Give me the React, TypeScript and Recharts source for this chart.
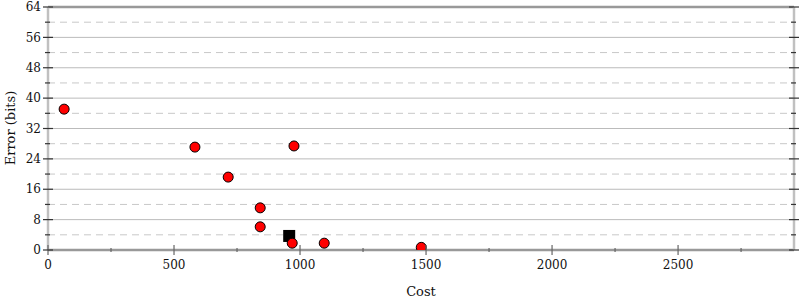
import React from "react";
import {
  ScatterChart,
  Scatter,
  XAxis,
  YAxis,
  ReferenceLine,
  Label,
} from "recharts";

// candidate points: cost vs error (bits)
const costs = [64, 583, 715, 976, 842, 842, 969, 1096, 1481];
const errors = [37.1, 27.1, 19.2, 27.4, 11.1, 6.1, 1.8, 1.8, 0.7];
// chosen point (black square)
const bestCost = [957];
const bestError = [3.7];

const xMajorTicks = [0, 500, 1000, 1500, 2000, 2500];
const xMinorTicks = [250, 750, 1250, 1750, 2250, 2750];
const yMajorTicks = [0, 8, 16, 24, 32, 40, 48, 56, 64];
const yMinorTicks = [4, 12, 20, 28, 36, 44, 52, 60];

const points = costs.map((c, i) => ({ cost: c, error: errors[i] }));
const best = bestCost.map((c, i) => ({ cost: c, error: bestError[i] }));

const FONT = "'DejaVu Serif', serif";

// eslint-disable-next-line @typescript-eslint/no-explicit-any
function LeftTick({ x, y, payload }: any) {
  const major = yMajorTicks.includes(payload.value);
  return (
    <g>
      <line x1={major ? x - 5 : x - 3} x2={major ? x + 5 : x + 2} y1={y} y2={y} stroke="#333" strokeWidth={1.2} />
      {major && (
        <text x={x - 7} y={y} dy="0.35em" textAnchor="end" fontSize={12} fontFamily={FONT} fill="#111">
          {payload.value}
        </text>
      )}
    </g>
  );
}

// eslint-disable-next-line @typescript-eslint/no-explicit-any
function RightTick({ x, y, payload }: any) {
  const major = yMajorTicks.includes(payload.value);
  return (
    <line x1={major ? x - 5 : x - 3} x2={major ? x + 5 : x + 2} y1={y} y2={y} stroke="#333" strokeWidth={1.2} />
  );
}

// eslint-disable-next-line @typescript-eslint/no-explicit-any
function BottomTick({ x, y, payload }: any) {
  const major = xMajorTicks.includes(payload.value);
  return (
    <g>
      <line x1={x} x2={x} y1={major ? y - 5 : y - 2} y2={major ? y + 5 : y + 2} stroke="#666" strokeWidth={1.2} />
      {major && (
        <text x={x} y={y + 15} dy="0.35em" textAnchor="middle" fontSize={12} fontFamily={FONT} fill="#111">
          {payload.value}
        </text>
      )}
    </g>
  );
}

// eslint-disable-next-line @typescript-eslint/no-explicit-any
const RedDot = (p: any) => (
  <circle cx={p.cx} cy={p.cy} r={5} fill="#ff0000" stroke="#000" strokeWidth={1} />
);

// eslint-disable-next-line @typescript-eslint/no-explicit-any
const BlackSquare = (p: any) => (
  <rect x={p.cx - 6} y={p.cy - 6} width={12} height={12} fill="#000" />
);

export default function App() {
  return (
    <div style={{ position: "absolute", left: 0, top: 0, width: 800, height: 300, background: "#fff" }}>
      <ScatterChart width={800} height={300} margin={{ top: 7, right: 0, bottom: 0, left: 0 }}>
        <XAxis
          type="number"
          dataKey="cost"
          domain={[0, 2960]}
          ticks={[...xMajorTicks, ...xMinorTicks].sort((a, b) => a - b)}
          interval={0}
          height={50}
          tickSize={0}
          tickMargin={0}
          tick={<BottomTick />}
          axisLine={{ stroke: "#999", strokeWidth: 2.5 }}
          tickLine={false}
          allowDataOverflow
        >
          <Label
            content={() => (
              <text x={421} y={291} textAnchor="middle" dy="0.35em" fontSize={13} fontFamily={FONT} fill="#111">
                Cost
              </text>
            )}
          />
        </XAxis>
        <YAxis
          yAxisId="left"
          type="number"
          dataKey="error"
          domain={[0, 64]}
          ticks={[...yMajorTicks, ...yMinorTicks].sort((a, b) => a - b)}
          interval={0}
          width={48}
          tickSize={0}
          tickMargin={0}
          tick={<LeftTick />}
          axisLine={{ stroke: "#c0c0c0", strokeWidth: 2.5 }}
          tickLine={false}
          allowDataOverflow
        >
          <Label
            content={() => (
              <text
                x={10}
                y={128}
                transform="rotate(-90 10 128)"
                textAnchor="middle"
                dy="0.35em"
                fontSize={13}
                fontFamily={FONT}
                fill="#111"
              >
                Error (bits)
              </text>
            )}
          />
        </YAxis>
        <YAxis
          yAxisId="right"
          orientation="right"
          type="number"
          domain={[0, 64]}
          ticks={[...yMajorTicks, ...yMinorTicks].sort((a, b) => a - b)}
          interval={0}
          width={6}
          tickSize={0}
          tickMargin={0}
          tick={<RightTick />}
          axisLine={{ stroke: "#c0c0c0", strokeWidth: 2.5 }}
          tickLine={false}
          allowDataOverflow
        />
        {yMinorTicks.map((v) => (
          <ReferenceLine key={"m" + v} yAxisId="left" y={v} stroke="#c8c8c8" strokeDasharray="7 5" strokeWidth={1} />
        ))}
        {yMajorTicks
          .filter((v) => v > 0 && v < 64)
          .map((v) => (
            <ReferenceLine key={"M" + v} yAxisId="left" y={v} stroke="#bbbbbb" strokeWidth={1} />
          ))}
        <ReferenceLine yAxisId="left" y={64} stroke="#999" strokeWidth={2.5} />
        <Scatter yAxisId="left" data={best} shape={BlackSquare} isAnimationActive={false} />
        <Scatter yAxisId="left" data={points} shape={RedDot} isAnimationActive={false} />
      </ScatterChart>
    </div>
  );
}
